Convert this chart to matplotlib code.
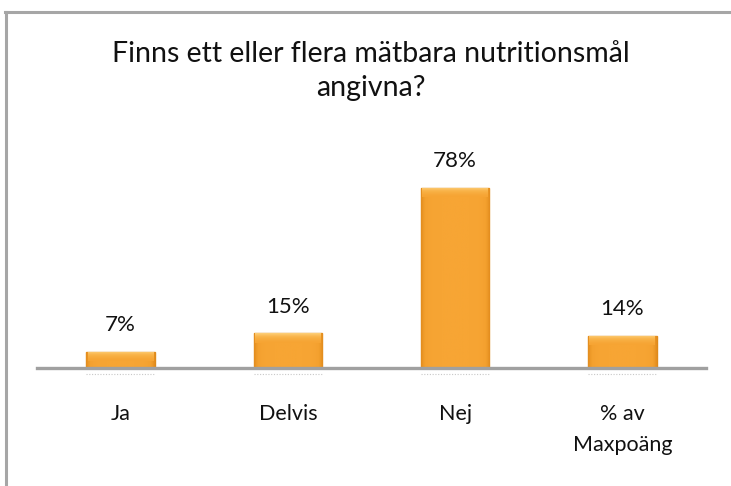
import numpy as np
import matplotlib.pyplot as plt
from matplotlib.lines import Line2D
from matplotlib.colors import LinearSegmentedColormap

# data
categories = ['Ja', 'Delvis', 'Nej', '% av\nMaxpoäng']
values = [7, 15, 78, 14]
value_labels = ['7%', '15%', '78%', '14%']
title = 'Finns ett eller flera mätbara nutritionsmål\nangivna?'

plt.rcParams['font.family'] = ['Lato', 'DejaVu Sans']

fig = plt.figure(figsize=(7.31, 4.86), dpi=100)
fig.patch.set_facecolor('white')
ax = fig.add_axes([37 / 731, 118 / 486, 669 / 731, 231 / 486])

x = np.arange(len(categories))
bars = ax.bar(x, values, width=0.41, color='#F5A030', edgecolor='#DE8A1A',
              linewidth=1.0, zorder=3)

# horizontal shading: darker at the sides, a soft light bevel on top
grad = np.linspace(-1, 1, 100).reshape(1, -1)
side = np.abs(grad) ** 6
cmap = LinearSegmentedColormap.from_list('bar', ['#F7A534', '#F3A02E', '#E38D1E'])
top_cmap = LinearSegmentedColormap.from_list('top', ['#F6A433', '#F9B44A', '#FDD07A'])
bevel = 4.0
for b in bars:
    x0, y0 = b.get_x(), b.get_y()
    w, h = b.get_width(), b.get_height()
    im = ax.imshow(side, extent=[x0, x0 + w, y0, y0 + h], origin='lower',
                   cmap=cmap, aspect='auto', zorder=3.5)
    im.set_clip_path(b)
    vt = (np.linspace(0, 1, 40) ** 1.5).reshape(-1, 1)
    im2 = ax.imshow(vt, extent=[x0 + w * 0.02, x0 + w * 0.98, y0 + h - bevel, y0 + h],
                    origin='lower', cmap=top_cmap, aspect='auto', zorder=3.6)
    im2.set_clip_path(b)
    # faint dotted line just below each bar
    ax.plot([x0, x0 + w], [-2.8, -2.8], color='#C8C8C8', linestyle=(0, (1, 1.5)),
            linewidth=0.8, clip_on=False, zorder=2)

ax.bar_label(bars, labels=value_labels, padding=12, fontsize=16, color='#111111')

ax.set_xlim(-0.5, len(categories) - 0.5)
ax.set_ylim(0, 100)
ax.set_xticks(x)
ax.set_xticklabels(categories, fontsize=15.5, linespacing=1.65, color='#111111')
ax.tick_params(axis='x', length=0, pad=26)
ax.set_yticks([])
for s in ['top', 'right', 'left']:
    ax.spines[s].set_visible(False)
ax.spines['bottom'].set_color('#A0A0A0')
ax.spines['bottom'].set_linewidth(2.4)
ax.spines['bottom'].set_zorder(4)
ax.set_facecolor('none')

fig.text(371 / 731, 1 - 71 / 486, title, ha='center', va='center',
         fontsize=20.5, linespacing=1.35, color='#111111')

# grey frame on top and left
fig.add_artist(Line2D([5 / 731, 1], [1 - 12 / 486, 1 - 12 / 486],
                      color='#A6A6A6', linewidth=2.2))
fig.add_artist(Line2D([6 / 731, 6 / 731], [0, 1 - 12 / 486],
                      color='#A6A6A6', linewidth=2.2))

fig.savefig('out.png', dpi=100)
